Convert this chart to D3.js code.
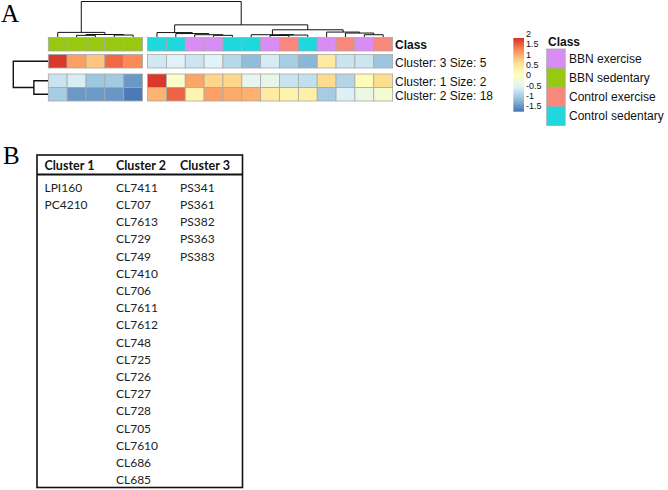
<!DOCTYPE html>
<html><head><meta charset="utf-8">
<script src="https://cdn.jsdelivr.net/npm/d3@7/dist/d3.min.js"></script>
<style>body{margin:0;background:#fff}svg{display:block}</style>
</head><body>
<svg id="c" width="668" height="490"></svg>
<script>
// ---------------- DATA ----------------
const classNames = ["BBN exercise", "BBN sedentary", "Control exercise", "Control sedentary"];
const classColors = ["#da8cf5", "#97c90f", "#f8877c", "#1fd7df"];
const leftClasses = ["BBN sedentary", "BBN sedentary", "BBN sedentary", "BBN sedentary", "BBN sedentary"];
const rightClasses = ["Control sedentary", "Control sedentary", "BBN exercise", "BBN exercise", "Control sedentary",
  "Control sedentary", "BBN exercise", "Control exercise", "Control sedentary", "BBN exercise",
  "Control exercise", "BBN exercise", "Control exercise"];
const rowLabels = ["Cluster: 3 Size: 5", "Cluster: 1 Size: 2", "Cluster: 2 Size: 18"];
// heatmap values (z-scores), left block = BBN sedentary, right block = others
const cluster3Left = [2.05, 1.35, 1.07, 1.72, 1.5];
const cluster3Right = [-0.5, -0.38, -0.52, -0.37, -0.69, -1.0, -0.45, -0.8, -1.05, 0.68, -0.55, -0.52, -0.9];
const cluster1Left = [-0.55, -0.43, -0.88, -0.85, -1.3];
const cluster1Right = [2.05, 0.15, 1.31, 0.95, 0.93, -0.25, -0.2, -0.55, -0.6, 0.9, -0.72, 0.33, 0.88];
const cluster2Left = [-0.82, -1.3, -1.28, -1.32, -1.55];
const cluster2Right = [1.2, 1.75, 0.49, 1.34, 1.27, 1.22, 0.65, 0.5, 0.55, -0.83, -0.4, -0.13, 0.03];
const heatColors = ["#4575B4", "#91BFDB", "#E0F3F8", "#FFFFBF", "#FEE090", "#FC8D59", "#D73027"];
const valueRange = [-1.6, 2.1];
const legendTicks = [2, 1.5, 1, 0.5, 0, -0.5, -1, -1.5];
// column dendrogram: [height, left, right]
const leftTree = [1.3, "L0", [0.7, [0.47, "L1", "L2"], [0.55, "L3", "L4"]]];
const rightTree = [3.42,
  [1.25, "R0", [0.97, "R1", [0.64, "R2", [0.47, "R3", "R4"]]]],
  [2.03,
    [0.64, "R5", [0.55, [0.42, "R6", "R7"], "R8"]],
    [1.39, "R9", [1.11, "R10", [0.64, "R11", "R12"]]]]];
const colTree = [10, leftTree, rightTree];
// row dendrogram
const rowTree = [10, "c3", [4.07, "c1", "c2"]];
// table
const tableHeaders = ["Cluster 1", "Cluster 2", "Cluster 3"];
const tableCluster1 = ["LPI160", "PC4210"];
const tableCluster2 = ["CL7411", "CL707", "CL7613", "CL729", "CL749", "CL7410", "CL706", "CL7611", "CL7612",
  "CL748", "CL725", "CL726", "CL727", "CL728", "CL705", "CL7610", "CL686", "CL685"];
const tableCluster3 = ["PS341", "PS361", "PS382", "PS363", "PS383"];

// ---------------- DRAW ----------------
const svg = d3.select("#c");
const sans = "'Liberation Sans', Arial, sans-serif";
const serif = "'Liberation Serif', 'Times New Roman', serif";

const color = d3.scaleLinear()
  .domain(d3.range(heatColors.length).map(i => valueRange[0] + i * (valueRange[1] - valueRange[0]) / (heatColors.length - 1)))
  .range(heatColors).interpolate(d3.interpolateRgb).clamp(true);
const classColor = d3.scaleOrdinal().domain(classNames).range(classColors);

const xL = d3.scaleBand().domain(d3.range(5)).range([48.3, 142.55]);
const xR = d3.scaleBand().domain(d3.range(13)).range([147.55, 392.6]);
const yClass = [37.5, 51];
const yTop = d3.scaleBand().domain(["c3"]).range([54.5, 68]);
const yBot = d3.scaleBand().domain(["c1", "c2"]).range([74, 101]);
const rowY = k => (k === "c3" ? yTop(k) : yBot(k));
const rowH = yBot.bandwidth();

// panel labels
svg.append("text").attr("x", 1).attr("y", 22).attr("font-family", serif).attr("font-size", 25).text("A");
svg.append("text").attr("x", 3).attr("y", 164).attr("font-family", serif).attr("font-size", 25).text("B");

const cellStroke = "#a9a9a9";
function block(xs, classes, rows) {
  const g = svg.append("g");
  g.selectAll(".cls").data(classes).join("rect")
    .attr("x", (d, i) => xs(i)).attr("y", yClass[0]).attr("width", xs.bandwidth()).attr("height", yClass[1] - yClass[0])
    .attr("fill", d => classColor(d)).attr("stroke", cellStroke).attr("stroke-width", 0.8);
  rows.forEach(([key, vals]) => {
    g.selectAll(".r" + key).data(vals).join("rect")
      .attr("x", (d, i) => xs(i)).attr("y", rowY(key)).attr("width", xs.bandwidth()).attr("height", rowH)
      .attr("fill", d => color(d)).attr("stroke", cellStroke).attr("stroke-width", 0.8);
  });
}
block(xL, leftClasses, [["c3", cluster3Left], ["c1", cluster1Left], ["c2", cluster2Left]]);
block(xR, rightClasses, [["c3", cluster3Right], ["c1", cluster1Right], ["c2", cluster2Right]]);

// column dendrogram
const yDen = d3.scaleLinear().domain([0, 10]).range([37, 1.5]);
const leafX = id => id[0] === "L" ? xL(+id.slice(1)) + xL.bandwidth() / 2 : xR(+id.slice(1)) + xR.bandwidth() / 2;
const colSegs = [];
function layoutCol(n) {
  if (typeof n === "string") return { x: leafX(n), y: yDen(0) };
  const a = layoutCol(n[1]), b = layoutCol(n[2]);
  const y = yDen(n[0]);
  colSegs.push(`M${a.x},${a.y}V${y}H${b.x}V${b.y}`);
  return { x: (a.x + b.x) / 2, y };
}
layoutCol(colTree);
svg.append("g").selectAll("path").data(colSegs).join("path")
  .attr("d", d => d).attr("fill", "none").attr("stroke", "#111").attr("stroke-width", 1);

// row dendrogram
const xDen = d3.scaleLinear().domain([0, 10]).range([48, 13.3]);
const rowSegs = [];
function layoutRow(n) {
  if (typeof n === "string") return { y: rowY(n) + rowH / 2, x: xDen(0) };
  const a = layoutRow(n[1]), b = layoutRow(n[2]);
  const x = xDen(n[0]);
  rowSegs.push(`M${a.x},${a.y}H${x}V${b.y}H${b.x}`);
  return { y: (a.y + b.y) / 2, x };
}
layoutRow(rowTree);
svg.append("g").selectAll("path").data(rowSegs).join("path")
  .attr("d", d => d).attr("fill", "none").attr("stroke", "#111").attr("stroke-width", 1.4);

// row labels
svg.append("text").attr("x", 395).attr("y", (yClass[0] + yClass[1]) / 2 + 5).attr("font-family", sans)
  .attr("font-size", 12).attr("font-weight", "bold").attr("fill", "#111").text("Class");
svg.selectAll(".rl").data(["c3", "c1", "c2"]).join("text")
  .attr("x", 395).attr("y", k => rowY(k) + rowH / 2 + 5.5).attr("font-family", sans)
  .attr("font-size", 12).attr("fill", "#111").text((k, i) => rowLabels[i]);

// color bar
const defs = svg.append("defs");
const grad = defs.append("linearGradient").attr("id", "cb").attr("x1", 0).attr("x2", 0).attr("y1", 1).attr("y2", 0);
const nStops = 20;
grad.selectAll("stop").data(d3.range(nStops + 1)).join("stop")
  .attr("offset", i => i / nStops)
  .attr("stop-color", i => color(valueRange[0] + i / nStops * (valueRange[1] - valueRange[0])));
svg.append("rect").attr("x", 513.3).attr("y", 38).attr("width", 10.7).attr("height", 73.7).attr("fill", "url(#cb)");
const yLeg = d3.scaleLinear().domain([2, -1.5]).range([34, 106]);
svg.selectAll(".lt").data(legendTicks).join("text")
  .attr("x", 526).attr("y", d => yLeg(d)).attr("dy", "0.35em").attr("font-family", sans)
  .attr("font-size", 9).attr("fill", "#111").text(d => d);

// class legend
svg.append("text").attr("x", 548).attr("y", 46).attr("font-family", sans).attr("font-size", 12)
  .attr("font-weight", "bold").attr("fill", "#111").text("Class");
const yCl = d3.scaleBand().domain(classNames).range([49, 125.5]);
svg.selectAll(".lb").data(classNames).join("rect")
  .attr("x", 546.7).attr("y", d => yCl(d)).attr("width", 18.5).attr("height", yCl.bandwidth())
  .attr("fill", d => classColor(d)).attr("stroke", cellStroke).attr("stroke-width", 0.8);
svg.selectAll(".ll").data(classNames).join("text")
  .attr("x", 569).attr("y", d => yCl(d) + yCl.bandwidth() / 2 + 4.5).attr("font-family", sans)
  .attr("font-size", 12).attr("fill", "#111").text(d => d);

// table
const tfont = "Lato, 'Open Sans', sans-serif";
const tb = { x0: 37, x1: 242.5, y0: 155, y1: 487.5, yh: 174.5 };
const colX = [44.5, 116, 180];
const tg = svg.append("g");
tg.append("rect").attr("x", tb.x0).attr("y", tb.y0).attr("width", tb.x1 - tb.x0).attr("height", tb.y1 - tb.y0)
  .attr("fill", "none").attr("stroke", "#111").attr("stroke-width", 1.6);
tg.append("line").attr("x1", tb.x0).attr("x2", tb.x1).attr("y1", tb.yh).attr("y2", tb.yh)
  .attr("stroke", "#111").attr("stroke-width", 2);
tg.selectAll(".th").data(tableHeaders).join("text")
  .attr("x", (d, i) => colX[i]).attr("y", 169.5).attr("font-family", tfont).attr("font-weight", "bold")
  .attr("font-size", 12.5).attr("fill", "#111").text(d => d);
const yT = d3.scalePoint().domain(d3.range(tableCluster2.length)).range([187.5, 480]);
[tableCluster1, tableCluster2, tableCluster3].forEach((list, ci) => {
  tg.selectAll(".tc" + ci).data(list).join("text")
    .attr("x", colX[ci]).attr("y", (d, i) => yT(i)).attr("dy", "0.36em").attr("font-family", tfont)
    .attr("font-size", 12).attr("fill", "#222").text(d => d);
});
</script>
</body></html>
